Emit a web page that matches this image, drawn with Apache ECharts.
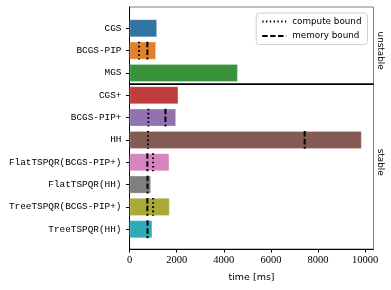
<!DOCTYPE html>
<html><head><meta charset="utf-8">
<script src="https://cdn.jsdelivr.net/npm/echarts@6/dist/echarts.min.js"></script>
<style>html,body{margin:0;padding:0;background:#fff}#c{width:391px;height:290px}</style>
</head><body><div id="c"></div>
<script>
const categories = ["CGS","BCGS-PIP","MGS","CGS+","BCGS-PIP+","HH","FlatTSPQR(BCGS-PIP+)","FlatTSPQR(HH)","TreeTSPQR(BCGS-PIP+)","TreeTSPQR(HH)"];
const timesMs = [1168, 1125, 4594, 2073, 1975, 9850, 1690, 913, 1706, 968];
const barColors = ["#3274a1","#e1812c","#3a923a","#c03d3e","#9372b2","#845b53","#d684bd","#7f7f7f","#a9aa35","#2eabb8"];
// compute bound (dotted) : [value, category index]
const computeBound = [[405,1],[800,4],[785,5],[1000,6],[1000,8]];
// memory bound (dashed) : [value, category index]
const memoryBound = [[758,1],[1525,4],[7430,5],[758,6],[765,7],[758,8],[765,9]];
const groupLabels = ["","unstable","","","","","stable","","",""];
const separatorAfter = [2];
const xTicks = [0,2000,4000,6000,8000,10000];
const xMax = 10350;

const chart = echarts.init(document.getElementById('c'), null, {renderer:'canvas'});
const dotDash = [1.6, 2.6], dashDash = [5.5, 2.4];

function vline(params, api, dash, width) {
  const p = api.coord([api.value(0), api.value(1)]);
  const h = api.size([0,1])[1] * 0.8;
  return {type:'line', shape:{x1:p[0], y1:p[1]-h/2, x2:p[0], y2:p[1]+h/2},
    style:{stroke:'#000', lineWidth:width, lineDash:dash}};
}

chart.setOption({
  animation:false,
  grid:[
    {left:129.5, right:17.5, top:7, bottom:41, show:true, borderColor:'#808080', borderWidth:1},
    {left:129.5, right:17.5, top:17.1, bottom:49.6}
  ],
  legend:{
    orient:'vertical', right:23.5, top:13, padding:[4,6,4,5],
    backgroundColor:'rgba(255,255,255,0.85)', borderColor:'#d0d0d0', borderWidth:1, borderRadius:3,
    itemWidth:24, itemHeight:10, itemGap:5.5,
    itemStyle:{color:'rgba(0,0,0,0)', borderWidth:0, opacity:0},
    textStyle:{fontFamily:'DejaVu Sans', fontSize:8.8, color:'#000', padding:[0,0,0,1]},
    data:['compute bound','memory bound']
  },
  xAxis:[
    {gridIndex:0, type:'value', min:0, max:xMax, interval:2000,
      axisLine:{show:true, lineStyle:{color:'#000', width:1}},
      axisTick:{show:true, length:3.5, customValues:xTicks, lineStyle:{color:'#000'}},
      axisLabel:{customValues:xTicks, color:'#000', fontFamily:'Liberation Serif', fontSize:10.5, margin:6,
        formatter:(v)=>String(v)},
      splitLine:{show:false},
      name:'time [ms]', nameLocation:'middle', nameGap:24,
      nameTextStyle:{fontFamily:'DejaVu Sans', fontSize:9.5, color:'#000'}},
    {gridIndex:1, type:'value', min:0, max:xMax, show:false, splitLine:{show:false}}
  ],
  yAxis:[
    {gridIndex:0, type:'value', min:0, max:1, position:'left',
      axisLine:{show:true, lineStyle:{color:'#000', width:1}}, axisTick:{show:false},
      axisLabel:{show:false}, splitLine:{show:false}},
    {gridIndex:1, type:'category', data:categories, inverse:true, position:'left',
      axisLine:{show:false}, axisTick:{show:true, alignWithLabel:true, length:3.5, inside:false, lineStyle:{color:'#000'}},
      axisLabel:{color:'#000', fontFamily:'Liberation Mono', fontSize:9.4, margin:8},
      splitLine:{show:false}},
    {gridIndex:1, type:'category', data:groupLabels, inverse:true, position:'right',
      axisLine:{show:false}, axisTick:{show:false},
      axisLabel:{color:'#000', fontFamily:'DejaVu Sans', fontSize:8.8, rotate:-90, margin:2, interval:0},
      splitLine:{show:false}}
  ],
  series:[
    {type:'bar', xAxisIndex:1, yAxisIndex:1, barWidth:'80%',
      data: timesMs.map((v,i)=>({value:v, itemStyle:{color:barColors[i]}})),
      itemStyle:{borderColor:'rgba(255,255,255,0.35)', borderWidth:0.8}, z:2},
    {type:'custom', name:'computeLines', xAxisIndex:1, yAxisIndex:1, data:computeBound, z:5,
      renderItem:(p,api)=>vline(p,api,dotDash,2)},
    {type:'custom', name:'memoryLines', xAxisIndex:1, yAxisIndex:1, data:memoryBound, z:5,
      renderItem:(p,api)=>vline(p,api,dashDash,2)},
    {type:'line', name:'compute bound', xAxisIndex:1, yAxisIndex:1, data:[], symbol:'none',
      lineStyle:{color:'#000', type:[1.4,2.4], width:1.5}, itemStyle:{color:'#000'}},
    {type:'line', name:'memory bound', xAxisIndex:1, yAxisIndex:1, data:[], symbol:'none',
      lineStyle:{color:'#000', type:[5.5,2.4], width:2}, itemStyle:{color:'#000'}},
    {type:'custom', xAxisIndex:1, yAxisIndex:1, data:separatorAfter.map(i=>[0,i]), z:6, silent:true,
      renderItem:(params, api)=>{
        const p = api.coord([0, api.value(1)]);
        const y = p[1] + api.size([0,1])[1]/2;
        const cs = params.coordSys;
        return {type:'line', shape:{x1:cs.x, y1:y, x2:cs.x+cs.width, y2:y}, style:{stroke:'#000', lineWidth:1.6}};
      }}
  ]
});
</script></body></html>
